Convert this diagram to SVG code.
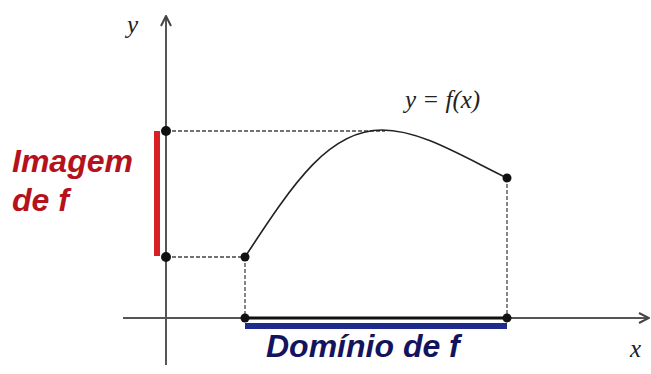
<svg xmlns="http://www.w3.org/2000/svg" width="651" height="374" viewBox="0 0 651 374">
<style>
.axis{stroke:#555;stroke-width:2;fill:none}
.dash{stroke:#444;stroke-width:1.3;stroke-dasharray:4 2;fill:none}
.dot{fill:#111}
.lbl{font-family:"Liberation Sans",Arial,sans-serif;font-weight:bold;font-style:italic;font-size:32px}
.math{font-family:"Liberation Serif","Times New Roman",serif;font-style:italic;font-size:25px;fill:#222}
</style>
<defs>
<marker id="open" viewBox="0 0 12 12" refX="11" refY="6" markerWidth="12" markerHeight="12" markerUnits="userSpaceOnUse" orient="auto">
<path d="M1,1 L11,6 L1,11" fill="none" stroke="#444" stroke-width="2"/>
</marker>
</defs>
<rect width="651" height="374" fill="#fff"/>
<g id="connectors">
<line class="axis" x1="166" y1="365" x2="166" y2="16" marker-end="url(#open)"/>
<line class="axis" x1="123" y1="318" x2="649" y2="318" marker-end="url(#open)"/>
<line x1="245" y1="318" x2="507" y2="318" stroke="#111" stroke-width="3"/>
<line x1="245" y1="326" x2="507" y2="326" stroke="#1e2a8c" stroke-width="6"/>
<line x1="157" y1="131" x2="157" y2="256" stroke="#d81e26" stroke-width="6"/>
<line class="dash" x1="166" y1="131" x2="385" y2="131"/>
<line class="dash" x1="166" y1="257" x2="245" y2="257"/>
<line class="dash" x1="245" y1="257" x2="245" y2="318"/>
<line class="dash" x1="507" y1="178" x2="507" y2="318"/>
<path d="M245,257 C295,180 330,130 382,130 C420,130 460,155 507,178" fill="none" stroke="#222" stroke-width="1.6"/>
</g>
<g id="points">
<circle class="dot" cx="166" cy="131" r="5"/>
<circle class="dot" cx="166" cy="257" r="5"/>
<circle class="dot" cx="245" cy="257" r="4.5"/>
<circle class="dot" cx="507" cy="178" r="4.5"/>
<circle class="dot" cx="245" cy="318" r="4.5"/>
<circle class="dot" cx="507" cy="318" r="4.5"/>
</g>
<g id="labels">
<text class="lbl" x="12" y="172" fill="#b5121b">Imagem</text>
<text class="lbl" x="12" y="211" fill="#b5121b">de f</text>
<text class="lbl" x="266" y="357" fill="#14145e" font-size="33">Domínio de f</text>
<text class="math" x="405" y="108">y = f(x)</text>
<text class="math" x="127" y="33">y</text>
<text class="math" x="630" y="357">x</text>
</g>
</svg>
